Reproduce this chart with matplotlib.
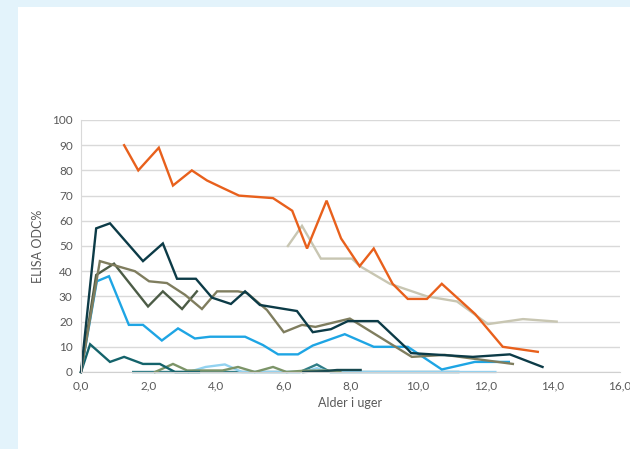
import matplotlib.pyplot as plt
from matplotlib.patches import Rectangle

# alder i uger / ELISA ODC% per besætning
orange_x = [1.28, 1.7, 2.31, 2.73, 3.29, 3.74, 4.21, 4.69, 5.7, 6.27, 6.71, 7.29, 7.72, 8.27, 8.69, 9.25, 9.7, 10.27, 10.71, 11.7, 12.52, 13.56]
orange_y = [90, 80, 89, 74, 80, 76, 73, 70, 69, 64, 49, 68, 53, 42, 49, 35, 29, 29, 35, 23, 10, 8]

beige_x = [6.14, 6.56, 7.12, 8.04, 8.28, 9.17, 10.27, 11.16, 12.08, 13.12, 14.12]
beige_y = [50, 58, 45, 45, 42, 35, 30, 28, 19, 21, 20]

navy_x = [0.0, 0.45, 0.86, 1.84, 2.43, 2.85, 3.41, 3.89, 4.45, 4.87, 5.31, 6.41, 6.88, 7.42, 7.92, 8.81, 9.7, 9.8, 11.63, 12.73, 13.7]
navy_y = [0, 57, 59, 44, 51, 37, 37, 29.5, 27, 32, 26.6, 24.2, 15.8, 17, 20.2, 20.2, 9, 7.5, 6, 7, 2]

olive_x = [0.0, 0.56, 1.6, 2.02, 2.55, 3.09, 3.59, 4.04, 4.66, 4.93, 5.52, 6.02, 6.56, 6.96, 7.98, 9.82, 10.8, 12.82]
olive_y = [0, 44, 40, 36, 35.3, 30.6, 25, 32, 32, 31.3, 24.6, 15.8, 18.7, 17.9, 21.2, 6, 6.8, 3.2]

darkgreen_x = [0.0, 0.45, 0.98, 1.99, 2.43, 3.0, 3.44]
darkgreen_y = [0, 38.5, 43, 26, 32, 25, 32]

blue_x = [0.0, 0.47, 0.83, 1.42, 1.84, 2.4, 2.88, 3.38, 3.83, 4.87, 5.4, 5.85, 6.44, 6.88, 7.83, 8.69, 9.7, 10.71, 11.69, 12.7]
blue_y = [0, 36, 38, 18.7, 18.7, 12.5, 17.3, 13.3, 14, 14, 10.7, 7, 7, 10.5, 15, 10, 10, 1, 4, 4]

teal_x = [0.0, 0.27, 0.86, 1.28, 1.84, 2.34, 2.79, 3.5]
teal_y = [0, 11, 4, 6, 3.2, 3.2, 0, 0]

midteal_x = [1.55, 6.5, 7.0, 7.4, 11.2]
midteal_y = [0, 0, 3, 0, 0]

dark2_x = [6.6, 7.2, 7.6, 8.3]
dark2_y = [0, 0.3, 0.8, 0.8]

pale_x = [3.2, 3.7, 4.27, 4.78, 6.6, 7.0, 7.4, 11.2, 12.3]
pale_y = [0, 2, 3, 0, 0, 1.5, 0, 0, 0]

green_x = [2.2, 2.73, 3.15, 4.2, 4.66, 5.16, 5.7, 6.1, 6.6, 7.2, 7.7]
green_y = [0, 3.2, 0.6, 0.6, 2, 0, 2, 0, 0.5, 0.6, 0.3]

series = [
    (midteal_x, midteal_y, '#2f7d86'),
    (pale_x, pale_y, '#92d2f0'),
    (green_x, green_y, '#7c9468'),
    (dark2_x, dark2_y, '#17484f'),
    (teal_x, teal_y, '#14636b'),
    (blue_x, blue_y, '#1ea5e4'),
    (darkgreen_x, darkgreen_y, '#4c5c46'),
    (olive_x, olive_y, '#7f7d5e'),
    (navy_x, navy_y, '#0c3b47'),
    (beige_x, beige_y, '#c8c6b2'),
    (orange_x, orange_y, '#e8601c'),
]

plt.rcParams['font.family'] = ['Lato', 'DejaVu Sans']

fig = plt.figure(figsize=(6.3, 4.49), dpi=100, facecolor='#e3f3fb')
# hvid flade indenfor den lyseblå ramme
fig.patches.append(Rectangle((18 / 630, 0), 1, 1 - 7 / 449, transform=fig.transFigure,
                             facecolor='white', edgecolor='none', zorder=-10))

ax = fig.add_axes([81 / 630, 77 / 449, 539 / 630, 252 / 449])
ax.set_facecolor('none')

for x, y, c in series:
    ax.plot(x, y, color=c, lw=1.7, solid_joinstyle='miter', clip_on=False)

ax.set_xlim(0, 16)
ax.set_ylim(0, 100)
ax.set_xticks(range(0, 17, 2))
ax.set_xticklabels([f'{v},0' for v in range(0, 17, 2)])
ax.set_yticks(range(0, 101, 10))
ax.grid(axis='y', color='#d9d9d9', lw=1)
ax.set_axisbelow(True)
for s in ['top', 'right']:
    ax.spines[s].set_visible(False)
ax.spines['left'].set_color('#d9d9d9')
ax.spines['bottom'].set_color('#d0d0d0')
ax.tick_params(length=0, labelsize=8.5, labelcolor='#595959', pad=6)

ax.set_xlabel('Alder i uger', fontsize=9, color='#595959', labelpad=4)
ax.set_ylabel('ELISA ODC%', fontsize=9, color='#595959', labelpad=6)

fig.savefig('out.png', dpi=100, facecolor=fig.get_facecolor())
